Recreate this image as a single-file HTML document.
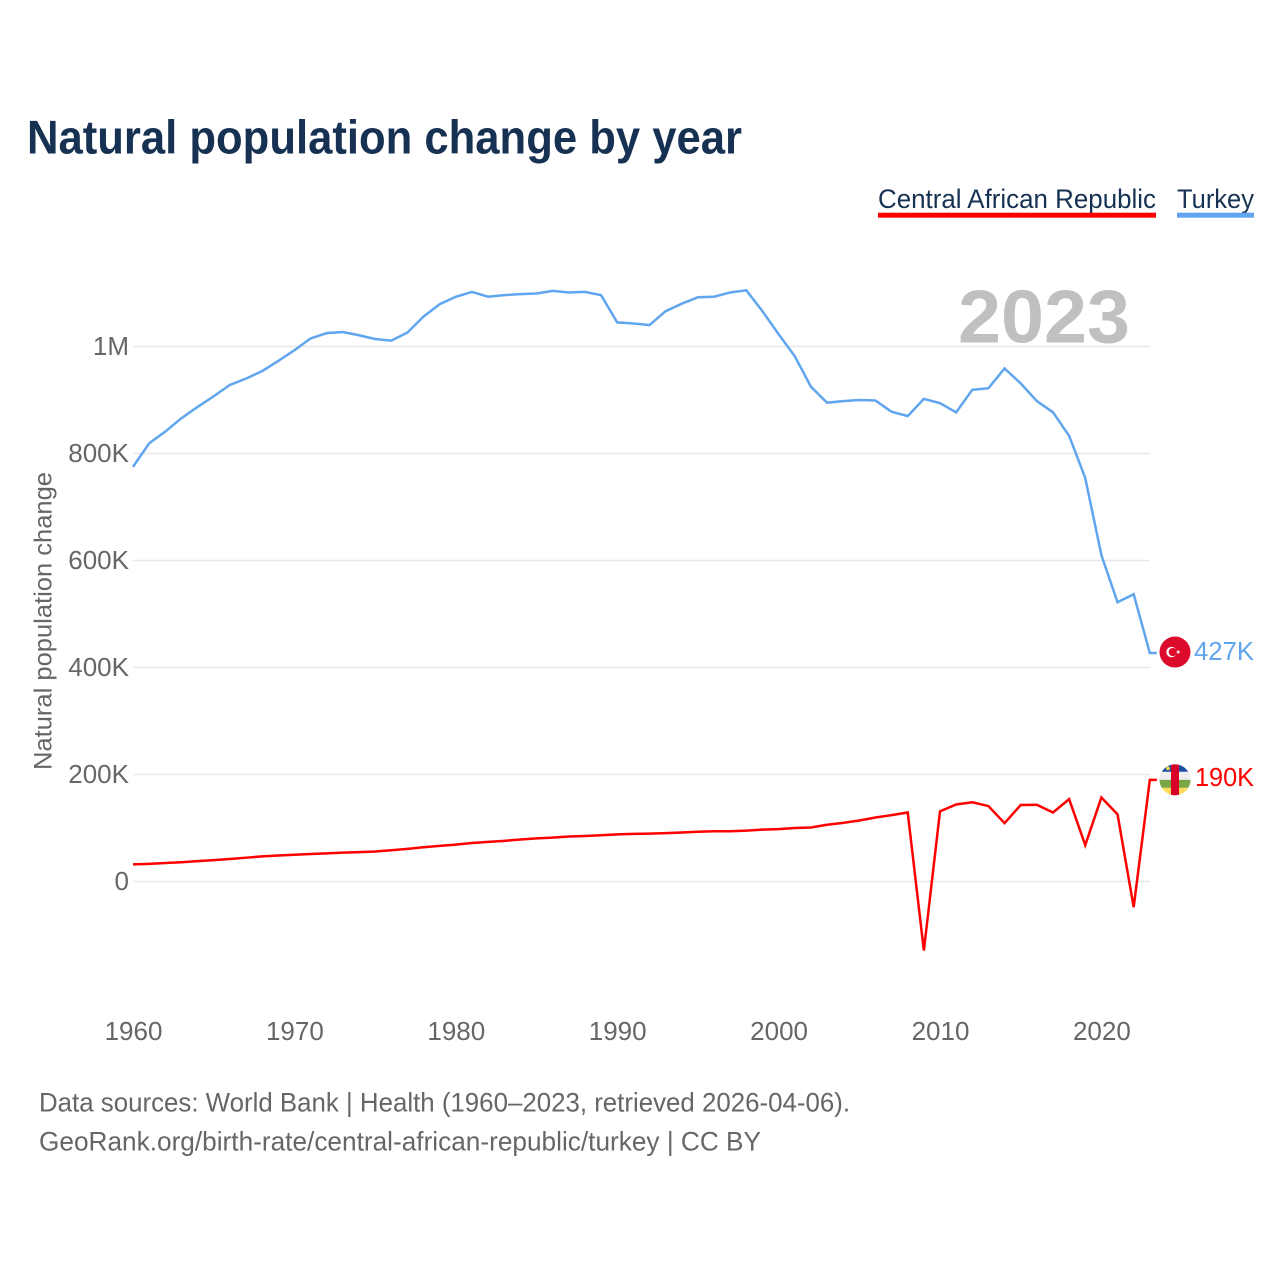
<!DOCTYPE html>
<html lang="en">
<head>
<meta charset="utf-8">
<title>Natural population change by year</title>
<style>
html,body{margin:0;padding:0;background:#fff;}
svg{display:block;font-family:"Liberation Sans",sans-serif;}
</style>
</head>
<body>
<svg id="chart" xmlns="http://www.w3.org/2000/svg" width="1280" height="1280" viewBox="0 0 1280 1280">
  <rect x="0" y="0" width="1280" height="1280" fill="#ffffff"/>
  <text x="27" y="153.5" font-size="47" font-weight="700" fill="#173153" textLength="715" lengthAdjust="spacingAndGlyphs">Natural population change by year</text>

  <g>
    <g>
      <text x="878" y="208" font-size="27" fill="#173153" textLength="278" lengthAdjust="spacingAndGlyphs">Central African Republic</text>
      <rect x="878" y="212.7" width="278" height="5" fill="#ff0000"/>
    </g>
    <g>
      <text x="1177" y="208" font-size="27" fill="#173153" textLength="77" lengthAdjust="spacingAndGlyphs">Turkey</text>
      <rect x="1177" y="212.7" width="77" height="5" fill="#60a5ee"/>
    </g>
  </g>

  <g id="grid"></g>
  <g id="y-ticks"></g>
  <g id="x-ticks"></g>

  <text x="1130" y="342.5" text-anchor="end" font-size="75" font-weight="700" fill="#c0c0c0" textLength="172" lengthAdjust="spacingAndGlyphs">2023</text>

  <text transform="translate(51.5 621) rotate(-90)" text-anchor="middle" font-size="25" fill="#666666" textLength="298" lengthAdjust="spacingAndGlyphs">Natural population change</text>

  <path id="line-turkey" fill="none" stroke="#60a5ee" stroke-width="2.5" stroke-linejoin="miter"/>
  <path id="line-car" fill="none" stroke="#ff0000" stroke-width="2.5" stroke-linejoin="miter"/>

  <defs>
    <clipPath id="flag-clip-car"><circle cx="0" cy="0" r="15.5"/></clipPath>
  </defs>

  <g id="flag-turkey">
    <circle cx="0" cy="0" r="15.5" fill="#dc0a2b"/>
    <circle cx="-3.5" cy="0" r="5.2" fill="#ffffff"/>
    <circle cx="-2.2" cy="0" r="4.1" fill="#dc0a2b"/>
    <polygon points="3.2,-2.4 3.8,-0.7 5.5,-0.7 4.1,0.3 4.7,2 3.2,1 1.7,2 2.3,0.3 0.9,-0.7 2.6,-0.7" fill="#ffffff"/>
  </g>

  <g id="flag-car">
    <g clip-path="url(#flag-clip-car)">
      <rect x="-16" y="-16" width="32" height="8" fill="#1c4fa0"/>
      <rect x="-16" y="-8" width="32" height="8" fill="#eeeeee"/>
      <rect x="-16" y="0" width="32" height="8" fill="#7aa648"/>
      <rect x="-16" y="8" width="32" height="8" fill="#ffda5c"/>
      <rect x="-4" y="-16" width="8" height="32" fill="#d80027"/>
      <circle cx="-7" cy="-11.5" r="1.8" fill="#ffda44"/>
    </g>
  </g>

  <text id="value-turkey" x="1254" text-anchor="end" font-size="26" fill="#60a5ee" textLength="60" lengthAdjust="spacingAndGlyphs"></text>
  <text id="value-car" x="1254" text-anchor="end" font-size="26" fill="#ff0000" textLength="59" lengthAdjust="spacingAndGlyphs"></text>

  <text x="39" y="1111.7" font-size="26.5" fill="#666666" textLength="811" lengthAdjust="spacingAndGlyphs">Data sources: World Bank | Health (1960–2023, retrieved 2026-04-06).</text>
  <a>
    <text x="39" y="1150.5" font-size="26.5" fill="#666666" textLength="722" lengthAdjust="spacingAndGlyphs">GeoRank.org/birth-rate/central-african-republic/turkey | CC BY</text>
  </a>
</svg>

<script>
// Chart data, in thousands of people.
const startYear = 1960;
const turkeyValues = [775,819,841,866,887,907,928,940,954,973,993,1015,1025,1027,1021,1014,1011,1026,1056,1079,1093,1102,1093,1096,1098,1099,1104,1101,1102,1096,1045,1043,1040,1066,1080,1092,1093,1101,1105,1066,1023,982,925,895,898,900,899,878,870,902,894,877,919,922,959,931,898,877,833,754,610,522,537,427];
const carValues = [32,33,34.5,36,38,40,42,44.5,47,48.5,50,51.5,52.5,54,55,56,58.5,61,64,66.5,69,72,74,76,78.5,80.5,82,84,85,86.5,88,89,89.5,90.5,91.5,93,94,94,95,97,98,100,101,106,109.5,114,119.6,124,129,-129,131,144,148,141,109,143,143.5,129,154,68,157,125.5,-48,190];
const xTickYears = [1960,1970,1980,1990,2000,2010,2020];
const yTickValues = [0,200,400,600,800,1000];
const yTickLabels = ["0","200K","400K","600K","800K","1M"];

const SVG_NS = "http://www.w3.org/2000/svg";
function xScale(year) { return 133 + (year - 1960) * 16.14; }
function yScale(value) { return 881.5 - value * 0.535; }

function linePath(values) {
  let d = "";
  values.forEach(function (v, i) {
    d += (i === 0 ? "M" : "L") + xScale(startYear + i).toFixed(2) + " " + yScale(v).toFixed(2) + " ";
  });
  const last = values[values.length - 1];
  d += "L" + (xScale(startYear + values.length - 1) + 7).toFixed(2) + " " + yScale(last).toFixed(2);
  return d;
}

const gridGroup = document.getElementById("grid");
const yTickGroup = document.getElementById("y-ticks");
const xTickGroup = document.getElementById("x-ticks");

yTickValues.forEach(function (value, i) {
  const gridline = document.createElementNS(SVG_NS, "line");
  
  
  gridline.setAttribute("x1", xScale(1960));
  gridline.setAttribute("x2", 1149.5);
  gridline.setAttribute("y1", yScale(value));
  gridline.setAttribute("y2", yScale(value));
  gridline.setAttribute("stroke", "#e8e8e8");
  gridline.setAttribute("stroke-width", "1.5");
  gridGroup.appendChild(gridline);

  const label = document.createElementNS(SVG_NS, "text");
  
  
  label.setAttribute("x", 129);
  label.setAttribute("y", yScale(value) + 8.5);
  label.setAttribute("text-anchor", "end");
  label.setAttribute("font-size", "26");
  label.setAttribute("fill", "#666666");
  label.textContent = yTickLabels[i];
  yTickGroup.appendChild(label);
});

xTickYears.forEach(function (year) {
  const label = document.createElementNS(SVG_NS, "text");
  
  
  label.setAttribute("x", xScale(year) + 0.5);
  label.setAttribute("y", 1040);
  label.setAttribute("text-anchor", "middle");
  label.setAttribute("font-size", "26");
  label.setAttribute("fill", "#666666");
  label.textContent = String(year);
  xTickGroup.appendChild(label);
});

document.getElementById("line-turkey").setAttribute("d", linePath(turkeyValues));
document.getElementById("line-car").setAttribute("d", linePath(carValues));

const lastTurkey = turkeyValues[turkeyValues.length - 1];
const lastCar = carValues[carValues.length - 1];

document.getElementById("flag-turkey").setAttribute("transform", "translate(1175 " + (yScale(lastTurkey) - 1) + ")");
document.getElementById("flag-car").setAttribute("transform", "translate(1175 " + yScale(lastCar) + ")");

const valueTurkey = document.getElementById("value-turkey");
valueTurkey.setAttribute("y", yScale(lastTurkey) + 7);
valueTurkey.textContent = Math.round(lastTurkey) + "K";

const valueCar = document.getElementById("value-car");
valueCar.setAttribute("y", yScale(lastCar) + 6);
valueCar.textContent = Math.round(lastCar) + "K";
</script>
</body>
</html>
